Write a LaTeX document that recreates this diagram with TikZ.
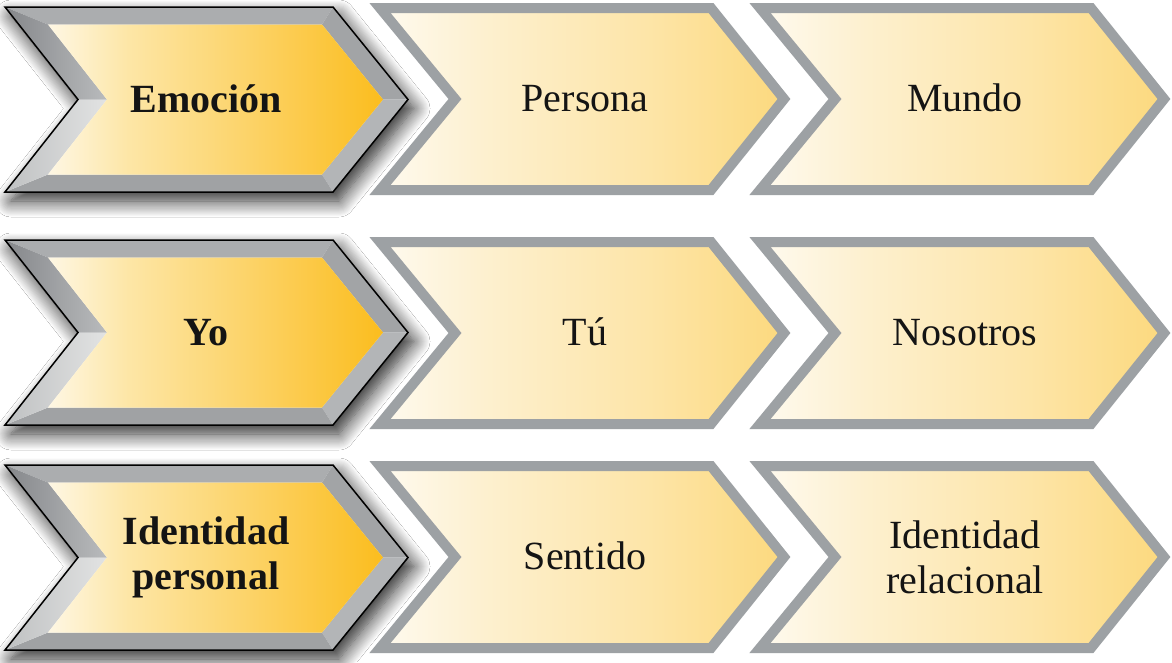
\documentclass[tikz,border=0pt]{standalone}
\usepackage{fontspec}
\setmainfont{Liberation Serif}
\usetikzlibrary{shadows.blur}

% palette
\definecolor{rimgray}{HTML}{9DA1A4}
\definecolor{inkdark}{HTML}{141414}
\definecolor{creamA}{HTML}{FEF7E4}
\definecolor{ambA1}{HTML}{FDE6A6}
\definecolor{ambA2}{HTML}{FCD368}
\definecolor{ambA3}{HTML}{FBBD1E}
\definecolor{creamB}{HTML}{FEFAEF}
\definecolor{ambB1}{HTML}{FDF0CF}
\definecolor{ambB2}{HTML}{FDE5A8}
\definecolor{ambB3}{HTML}{FCD97E}
\definecolor{bevTop}{HTML}{ABADAF}
\definecolor{bevUR}{HTML}{A2A4A6}
\definecolor{bevLR}{HTML}{B3B5B7}
\definecolor{bevBot}{HTML}{A0A2A4}
\definecolor{bevLLout}{HTML}{BFC1C2}
\definecolor{bevLLin}{HTML}{E2E3E3}
\definecolor{bevULout}{HTML}{85878A}
\definecolor{bevULin}{HTML}{B9BBBD}

% horizontal colour ramps (path box = 25bp .. 75bp)
\pgfdeclarehorizontalshading{amberstrong}{100bp}{color(0bp)=(creamA); color(25bp)=(creamA); color(37bp)=(ambA1); color(55bp)=(ambA2); color(75bp)=(ambA3); color(100bp)=(ambA3)}
\pgfdeclarehorizontalshading{amberpale}{100bp}{color(0bp)=(creamB); color(25bp)=(creamB); color(38bp)=(ambB1); color(58bp)=(ambB2); color(75bp)=(ambB3); color(100bp)=(ambB3)}

\tikzset{
  lbl/.style={text=inkdark, font=\fontsize{40}{45}\selectfont, align=center, inner sep=0pt},
  oneline/.style={text height=25pt, text depth=0pt},
  lblbold/.style={lbl, font=\fontsize{40}{45}\selectfont\bfseries},
  rim/.style={draw=rimgray, line width=10pt, line join=miter, shading=amberpale},
  bevelrim/.style={draw=black, line width=1.5pt, line join=miter},
  castshadow/.style={blur shadow={shadow xshift=6pt, shadow yshift=-9pt,
      shadow blur radius=16pt, shadow blur steps=16, shadow opacity=85}},
}

% bevelled leading chevron: #1 name, #2 row centre, #3 label, #4 extra label style
\newcommand\leadchev[4]{%
  \coordinate (#1-o1) at (5,#2-92.5);
  \coordinate (#1-o2) at (333,#2-92.5);
  \coordinate (#1-o3) at (408,#2);
  \coordinate (#1-o4) at (333,#2+92.5);
  \coordinate (#1-o5) at (5,#2+92.5);
  \coordinate (#1-o6) at (78,#2);
  \coordinate (#1-i1) at (48,#2-75);
  \coordinate (#1-i2) at (322,#2-75);
  \coordinate (#1-i3) at (383,#2);
  \coordinate (#1-i4) at (322,#2+75);
  \coordinate (#1-i5) at (48,#2+75);
  \coordinate (#1-i6) at (107,#2);
  \fill[white, castshadow]
    (#1-o1) -- (#1-o2) -- (#1-o3) -- (#1-o4) -- (#1-o5) -- (#1-o6) -- cycle;
  \fill[bevTop] (#1-o1) -- (#1-o2) -- (#1-i2) -- (#1-i1) -- cycle;
  \fill[bevUR] (#1-o2) -- (#1-o3) -- (#1-i3) -- (#1-i2) -- cycle;
  \fill[bevLR] (#1-o3) -- (#1-o4) -- (#1-i4) -- (#1-i3) -- cycle;
  \fill[bevBot] (#1-o4) -- (#1-o5) -- (#1-i5) -- (#1-i4) -- cycle;
  \shade[left color=bevLLout, right color=bevLLin] (#1-o5) -- (#1-o6) -- (#1-i6) -- (#1-i5) -- cycle;
  \shade[left color=bevULout, right color=bevULin] (#1-o6) -- (#1-o1) -- (#1-i1) -- (#1-i6) -- cycle;
  \shade[shading=amberstrong] (#1-i1) -- (#1-i2) -- (#1-i3) -- (#1-i4) -- (#1-i5) -- (#1-i6) -- cycle;
  \draw[bevelrim] (#1-o1) -- (#1-o2) -- (#1-o3) -- (#1-o4) -- (#1-o5) -- (#1-o6) -- cycle;
  \node[lblbold, #4] (#1) at (206,#2) {#3};
}

% plain chevron with grey rim: #1 name, #2 left x, #3 row centre, #4 label, #5 extra label style
\newcommand\plainchev[5]{%
  \draw[rim] (#2,#3-91) -- (#2+331,#3-91) -- (#2+404,#3) -- (#2+331,#3+91)
    -- (#2,#3+91) -- (#2+75,#3) -- cycle;
  \node[lbl, #5] (#1) at (#2+205,#3) {#4};
}

\begin{document}
\begin{tikzpicture}[x=1pt, y=-1pt]
  \useasboundingbox (0,0) rectangle (1172,662);
  \fill[white] (0,0) rectangle (1172,662);

  % row 1
  \leadchev{emocion}{99.5}{Emoción}{oneline}
  \plainchev{persona}{380}{99}{Persona}{oneline}
  \plainchev{mundo}{760}{99}{Mundo}{oneline}

  % row 2
  \leadchev{yo}{332.5}{Yo}{oneline}
  \plainchev{tu}{380}{333}{Tú}{oneline}
  \plainchev{nosotros}{760}{333}{Nosotros}{oneline}

  % row 3
  \leadchev{idper}{557.5}{Identidad\\personal}{}
  \plainchev{sentido}{380}{557}{Sentido}{oneline}
  \plainchev{idrel}{760}{557}{Identidad\\relacional}{}
\end{tikzpicture}
\end{document}
